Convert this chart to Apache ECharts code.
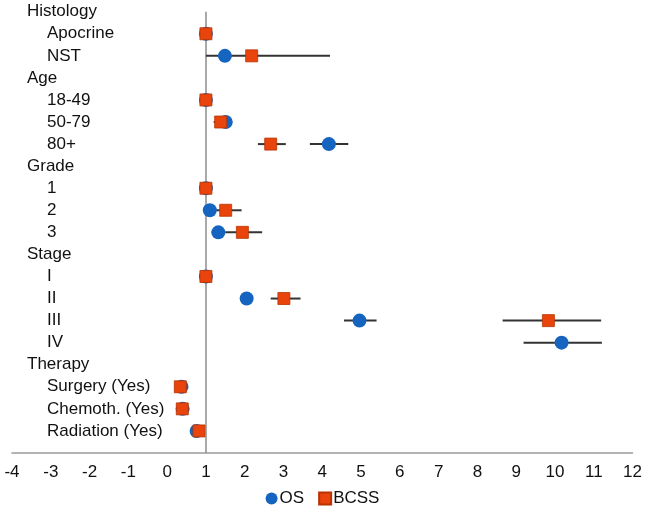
<!DOCTYPE html>
<html>
<head>
<meta charset="utf-8">
<script src="https://cdn.jsdelivr.net/npm/echarts@6/dist/echarts.min.js"></script>
<style>
  html, body { margin: 0; padding: 0; background: #fff; }
  #chart { width: 645px; height: 514px; }
</style>
</head>
<body>
<div id="chart"></div>
<script>
// rows, top to bottom
const rowLabels = ['Histology', 'Apocrine', 'NST', 'Age', '18-49', '50-79', '80+',
  'Grade', '1', '2', '3', 'Stage', 'I', 'II', 'III', 'IV',
  'Therapy', 'Surgery (Yes)', 'Chemoth. (Yes)', 'Radiation (Yes)']
const headerRows = ['Histology', 'Age', 'Grade', 'Stage', 'Therapy']

// hazard ratios, one per row (null = nothing drawn)
const osHR = [null, 1, 1.49, null, 1, 1.51, 4.17, null, 1, 1.10, 1.32, null, 1, 2.05, 4.96, 10.17, null, 0.37, 0.40, 0.76]
const osLow = [null, null, null, null, null, 1.35, 3.68, null, null, null, 1.15, null, null, null, 4.56, 9.19, null, null, null, null]
const osHigh = [null, null, null, null, null, 1.68, 4.67, null, null, null, 1.50, null, null, null, 5.40, 11.21, null, null, null, null]

const bcssHR = [null, 1, 2.18, null, 1, 1.38, 2.67, null, 1, 1.51, 1.94, null, 1, 3.01, 9.83, null, null, 0.34, 0.39, 0.82]
const bcssLow = [null, null, 1.0, null, null, 1.20, 2.34, null, null, 1.15, 1.50, null, null, 2.67, 8.65, null, null, null, null, null]
const bcssHigh = [null, null, 4.2, null, null, 1.60, 3.06, null, null, 1.92, 2.45, null, null, 3.44, 11.19, null, null, null, null, null]

const xTicks = { min: -4, max: 12, step: 1 }
const refLine = 1

const blue = '#1565c0'
const orange = '#e8440c'
const ink = '#111'

function points (vals) {
  const out = []
  vals.forEach((v, i) => { if (v !== null) out.push([v, i]) })
  return out
}

function bars (lows, highs) {
  const out = []
  lows.forEach((lo, i) => { if (lo !== null) out.push([lo, highs[i], i]) })
  return out
}

// error bar line
function renderBar (params, api) {
  const a = api.coord([api.value(0), api.value(2)])
  const b = api.coord([api.value(1), api.value(2)])
  return {
    type: 'line',
    shape: { x1: a[0], y1: a[1], x2: b[0], y2: b[1] },
    style: { stroke: '#333', lineWidth: 2 }
  }
}

const chart = echarts.init(document.getElementById('chart'))

chart.setOption({
  animation: false,
  textStyle: { fontFamily: 'Liberation Sans, Arial, sans-serif' },
  grid: { left: 12, right: 12, top: 11.7, bottom: 61, containLabel: false },
  legend: {
    bottom: 2,
    left: 'center',
    itemWidth: 12,
    itemHeight: 12,
    itemGap: 14,
    textStyle: { fontSize: 17, color: ink, padding: [0, 0, 0, -3] },
    data: [
      { name: 'OS', icon: 'circle' },
      { name: 'BCSS', icon: 'rect' }
    ]
  },
  xAxis: {
    type: 'value',
    min: xTicks.min,
    max: xTicks.max,
    interval: xTicks.step,
    splitLine: { show: false },
    axisTick: { show: false },
    axisLine: { show: true, onZero: false, lineStyle: { color: '#9a9a9a', width: 1.5 } },
    axisLabel: { fontSize: 17, color: ink, margin: 11 }
  },
  yAxis: {
    type: 'category',
    inverse: true,
    boundaryGap: false,
    data: rowLabels.concat(['']),
    axisLine: { show: false },
    axisTick: { show: false },
    splitLine: { show: false },
    axisLabel: {
      inside: true,
      margin: 15,
      interval: 0,
      formatter: (v) => v === '' ? '' : (headerRows.includes(v) ? '{h|' + v + '}' : '{s|' + v + '}'),
      rich: {
        h: { fontSize: 17, color: ink },
        s: { fontSize: 17, color: ink, padding: [0, 0, 0, 20] }
      }
    }
  },
  series: [
    {
      name: 'OS CI',
      type: 'custom',
      renderItem: renderBar,
      dimensions: ['low', 'high', 'row'],
      encode: { x: [0, 1], y: 2 },
      data: bars(osLow, osHigh),
      z: 2,
      silent: true
    },
    {
      name: 'BCSS CI',
      type: 'custom',
      renderItem: renderBar,
      dimensions: ['low', 'high', 'row'],
      encode: { x: [0, 1], y: 2 },
      data: bars(bcssLow, bcssHigh),
      z: 2,
      silent: true
    },
    {
      name: 'OS',
      type: 'scatter',
      symbol: 'circle',
      symbolSize: 14,
      itemStyle: { color: blue, opacity: 1 },
      data: points(osHR),
      z: 3,
      markLine: {
        silent: true,
        symbol: 'none',
        label: { show: false },
        lineStyle: { color: '#8c8c8c', width: 1.5, type: 'solid' },
        data: [{ xAxis: refLine }],
        z: 1
      }
    },
    {
      name: 'BCSS',
      type: 'scatter',
      symbol: 'rect',
      symbolSize: 12,
      itemStyle: { color: orange, borderColor: '#b83300', borderWidth: 0.8, opacity: 1 },
      data: points(bcssHR),
      z: 4
    }
  ]
})
</script>
</body>
</html>
